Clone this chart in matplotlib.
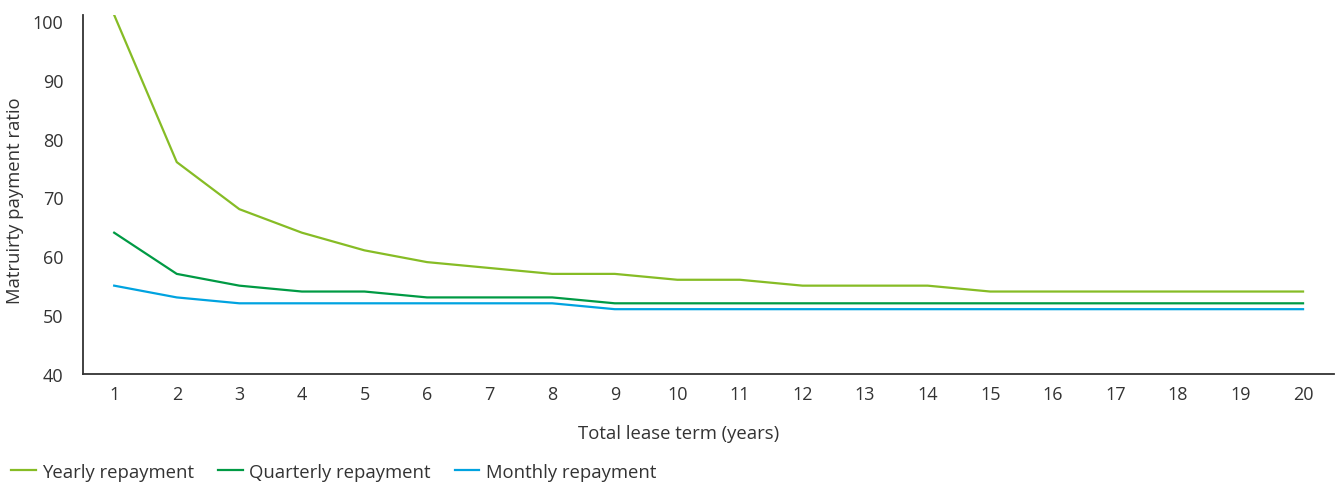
import numpy as np
import matplotlib.pyplot as plt

plt.rcParams['font.family'] = ['Open Sans', 'DejaVu Sans']

# Data
years = list(range(1, 21))
yearly = [101, 76, 68, 64, 61, 59, 58, 57, 57, 56, 56, 55, 55, 55, 54, 54, 54, 54, 54, 54]
quarterly = [64, 57, 55, 54, 54, 53, 53, 53, 52, 52, 52, 52, 52, 52, 52, 52, 52, 52, 52, 52]
monthly = [55, 53, 52, 52, 52, 52, 52, 52, 51, 51, 51, 51, 51, 51, 51, 51, 51, 51, 51, 51]

text_col = '#333333'
fs = 13.3

fig = plt.figure(figsize=(13.37, 4.85), dpi=100)
ax = fig.add_axes([0.062, 0.227, 0.936, 0.740])

ax.plot(years, yearly, color='#86BC25', lw=1.6, label='Yearly repayment')
ax.plot(years, quarterly, color='#009A44', lw=1.6, label='Quarterly repayment')
ax.plot(years, monthly, color='#00A3E0', lw=1.6, label='Monthly repayment')

ax.set_xlim(0.5, 20.5)
ax.set_ylim(40, 101)
ax.set_xticks(years)
ax.set_yticks(np.arange(40, 101, 10))
ax.tick_params(axis='both', length=0, labelsize=13, colors=text_col)
ax.tick_params(axis='y', pad=14)
ax.tick_params(axis='x', pad=8)

for s in ['top', 'right']:
    ax.spines[s].set_visible(False)
for s in ['left', 'bottom']:
    ax.spines[s].set_color('#333333')
    ax.spines[s].set_linewidth(1.3)

ax.set_ylabel('Matruirty payment ratio', fontsize=fs, color=text_col)
ax.yaxis.set_label_coords(-0.047, 0.485)
ax.set_xlabel('Total lease term (years)', fontsize=fs, color=text_col)
ax.xaxis.set_label_coords(0.4756, -0.139)

ax.legend(loc='center left', bbox_to_anchor=(-0.0575, -0.273), ncol=3, frameon=False,
          fontsize=fs, handlelength=1.35, handletextpad=0.33, columnspacing=1.3,
          borderaxespad=0, borderpad=0, labelcolor=text_col)

fig.savefig('out.png', dpi=100)
